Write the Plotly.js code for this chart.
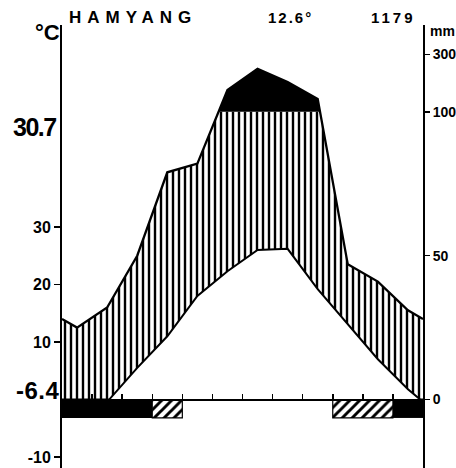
<!DOCTYPE html>
<html><head><meta charset="utf-8">
<script src="https://cdn.plot.ly/plotly-3.0.1.min.js"></script>
<style>html,body{margin:0;padding:0;background:#fff}#chart{width:456px;height:468px}</style>
</head><body><div id="chart"></div>
<script>
// ---- data ----
const months = ['Jan','Feb','Mar','Apr','May','Jun','Jul','Aug','Sep','Oct','Nov','Dec'];
const tempC = [-2.6, -0.4, 5.5, 11.0, 18.0, 22.3, 26.0, 26.2, 19.2, 13.1, 7.0, 1.8];
const precipMm = [25, 32, 50, 79, 82, 176, 250, 204, 145, 47, 41, 31];
const absFrost = [1,1,1,0,0,0,0,0,0,0,0,1];
const probFrost = [0,0,0,1,0,0,0,0,0,1,1,0];
const leftTicks = [-10, 10, 20, 30];
const rightTicksMm = [0, 50, 100, 300];
const stationName = 'HAMYANG';
const meanTempLabel = '12.6°';
const annualPrecipLabel = '1179';
const maxWarmLabel = '30.7';
const minColdLabel = '-6.4';

// ---- helpers ----
const FONT = 'Liberation Sans, Arial, Helvetica, sans-serif';
function scaleP(p){ return p <= 100 ? p/2 : 50 + (p-100)/20; }
function withEdges(vals){
  const edge = (vals[0] + vals[vals.length-1]) / 2;
  const xs = [0], ys = [edge];
  vals.forEach((v,i)=>{ xs.push(i+0.5); ys.push(v); });
  xs.push(vals.length); ys.push(edge);
  return {xs, ys};
}
function clip(xs, ys, lim, fn){
  const ox=[], oy=[];
  for(let i=0;i<xs.length;i++){
    if(i>0 && (ys[i-1]-lim)*(ys[i]-lim) < 0){
      const t=(lim-ys[i-1])/(ys[i]-ys[i-1]);
      ox.push(xs[i-1]+t*(xs[i]-xs[i-1])); oy.push(lim);
    }
    ox.push(xs[i]); oy.push(fn(ys[i],lim));
  }
  return {xs:ox, ys:oy};
}
function above(xs, ys, lim){
  const ox=[], oy=[];
  for(let i=0;i<xs.length;i++){
    if(i>0 && (ys[i-1]-lim)*(ys[i]-lim) < 0){
      const t=(lim-ys[i-1])/(ys[i]-ys[i-1]);
      ox.push(xs[i-1]+t*(xs[i]-xs[i-1])); oy.push(lim);
    }
    if(ys[i] > lim){ ox.push(xs[i]); oy.push(ys[i]); }
  }
  return {xs:ox, ys:oy};
}
// merge consecutive flagged months into single bars
function runs(flags){
  const out={x:[], w:[]};
  let s=-1;
  for(let i=0;i<=flags.length;i++){
    const f = i<flags.length && flags[i];
    if(f && s<0) s=i;
    if(!f && s>=0){ out.x.push((s+i)/2); out.w.push(i-s); s=-1; }
  }
  return out;
}

const T = withEdges(tempC);
const P = withEdges(precipMm.map(scaleP));
const Tlow = clip(T.xs, T.ys, 0, Math.max);
const Pcap = clip(P.xs, P.ys, 50, Math.min);
const Phigh = above(P.xs, P.ys, 50);

const barDepth = -3.2;
const absRuns = runs(absFrost);
const probRuns = runs(probFrost);

const traces = [
  {x:Tlow.xs, y:Tlow.ys, mode:'lines', line:{width:0,color:'#000'}, hoverinfo:'skip', showlegend:false},
  {x:Pcap.xs, y:Pcap.ys, mode:'lines', line:{width:0,color:'#000'}, fill:'tonexty',
   fillcolor:'#fff', fillpattern:{shape:'|', size:6, solidity:0.4, fgcolor:'#000', bgcolor:'#fff'},
   hoverinfo:'skip', showlegend:false},
  {x:Phigh.xs, y:Phigh.ys, mode:'lines', line:{width:0,color:'#000'}, fill:'toself', fillcolor:'#000',
   hoverinfo:'skip', showlegend:false},
  {x:Tlow.xs, y:Tlow.ys, mode:'lines', line:{width:2,color:'#000'}, hoverinfo:'skip', showlegend:false},
  {x:P.xs, y:P.ys, mode:'lines', line:{width:2.3,color:'#000'}, hoverinfo:'skip', showlegend:false, yaxis:'y2'},
  {type:'bar', x:absRuns.x, y:absRuns.x.map(()=>barDepth), base:0, width:absRuns.w,
   marker:{color:'#000', line:{width:0}}, hoverinfo:'skip', showlegend:false},
  {type:'bar', x:probRuns.x, y:probRuns.x.map(()=>barDepth), base:0, width:probRuns.w,
   marker:{color:'#fff', line:{width:1.2,color:'#000'},
     pattern:{shape:'/', size:7, solidity:0.42, fgcolor:'#000', bgcolor:'#fff'}},
   hoverinfo:'skip', showlegend:false}
];

const yRange = [-11.9, 65.1];
const L=62, R=423, TOP=25, BOT=468;
const X = px => (px-L)/(R-L);
const Y = py => (BOT-py)/(BOT-TOP);
const tf = {family:FONT, size:16, color:'#000', weight:700};

const layout = {
  width:456, height:468, paper_bgcolor:'#fff', plot_bgcolor:'#fff',
  margin:{l:L, r:456-R, t:TOP, b:0, pad:0},
  barmode:'overlay', showlegend:false,
  xaxis:{range:[0,12], anchor:'free', position:(0-yRange[0])/(yRange[1]-yRange[0]),
    showline:true, linewidth:2, linecolor:'#000', ticks:'inside', ticklen:5, tickwidth:1.5, tickcolor:'#000',
    tickvals:[1,2,3,4,5,6,7,8,9,10,11], showticklabels:false, showgrid:false, zeroline:false, fixedrange:true},
  yaxis:{range:yRange, showline:true, linewidth:2, linecolor:'#000', ticks:'outside', ticklen:6, tickwidth:1.5,
    tickcolor:'#000', tickvals:leftTicks, ticktext:leftTicks.map(String), tickfont:tf,
    showgrid:false, zeroline:false, fixedrange:true},
  yaxis2:{range:yRange, overlaying:'y', side:'right', showline:true, linewidth:2, linecolor:'#000',
    ticks:'outside', ticklen:5, tickwidth:1.5, tickcolor:'#000',
    tickvals:rightTicksMm.map(scaleP), ticktext:rightTicksMm.map(String),
    tickfont:{family:FONT, size:14, color:'#000', weight:700},
    showgrid:false, zeroline:false, fixedrange:true},
  annotations:[
    {text:stationName, xref:'paper', yref:'paper', x:X(133), y:Y(17), xanchor:'center', yanchor:'middle', showarrow:false,
     font:{family:FONT, size:17, color:'#000', weight:700}},
    {text:meanTempLabel, xref:'paper', yref:'paper', x:X(290.5), y:Y(17), xanchor:'center', yanchor:'middle', showarrow:false,
     font:{family:FONT, size:15, color:'#000', weight:700}},
    {text:annualPrecipLabel, xref:'paper', yref:'paper', x:X(393), y:Y(17), xanchor:'center', yanchor:'middle', showarrow:false,
     font:{family:FONT, size:15, color:'#000', weight:700}},
    {text:'°C', xref:'paper', yref:'paper', x:X(47), y:Y(33), xanchor:'center', yanchor:'middle', showarrow:false,
     font:{family:FONT, size:22, color:'#000', weight:700}},
    {text:'mm', xref:'paper', yref:'paper', x:X(428), y:Y(31), xanchor:'left', yanchor:'middle', showarrow:false,
     font:{family:FONT, size:14, color:'#000', weight:700}},
    {text:maxWarmLabel, xref:'paper', yref:'paper', x:X(61), y:Y(127), xanchor:'right', yanchor:'middle', showarrow:false,
     font:{family:FONT, size:25, color:'#000', weight:700}},
    {text:minColdLabel, xref:'paper', yref:'paper', x:X(61), y:Y(390), xanchor:'right', yanchor:'middle', showarrow:false,
     font:{family:FONT, size:24, color:'#000', weight:700}}
  ]
};

const spacing = {0:'6px', 1:'2px', 2:'3px', 5:'-1.5px', 6:'0.5px'};
Plotly.newPlot('chart', traces, layout, {staticPlot:true, displayModeBar:false}).then(gd=>{
  gd.querySelectorAll('.annotation').forEach(g=>{
    const idx = g.getAttribute('data-index');
    const t = g.querySelector('text');
    if(t && spacing[idx]) t.style.letterSpacing = spacing[idx];
  });
});
</script>
</body></html>
